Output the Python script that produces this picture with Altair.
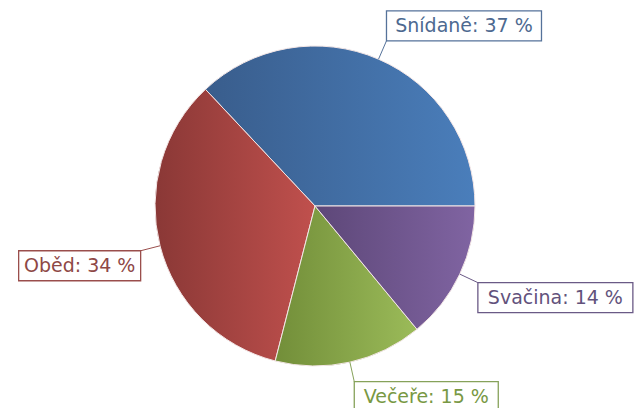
import altair as alt
import pandas as pd

# ---- data (counter-clockwise from 3 o'clock) ----
categories = ["Snídaně", "Oběd", "Večeře", "Svačina"]
shares = [37, 34, 15, 14]

# ---- styles ----
grad_dark = ["#395D8C", "#8A3836", "#728E39", "#5D4778"]
grad_light = ["#4A7EBB", "#C0504D", "#9BBB59", "#8064A2"]
line_colors = ["#55729A", "#9A4E4C", "#86A25A", "#6A5A86"]
text_colors = ["#4D6990", "#8E4846", "#789843", "#62527C"]

df = pd.DataFrame({"meal": categories, "share": shares, "idx": list(range(len(categories)))})

W, H = 639, 408
R = 160.0          # pie radius in px (1 data unit)
CX, CY = 315, 206  # pie centre in px
xs = alt.Scale(domain=[-CX / R, (W - CX) / R], nice=False, zero=False)
ys = alt.Scale(domain=[-(H - CY) / R, CY / R], nice=False, zero=False)
ts = alt.Scale(domain=[0, 100], range=[3.141592653589793 / 2, 5 * 3.141592653589793 / 2])

base = alt.Chart(df)

arcs = []
for i, cat in enumerate(categories):
    grad = alt.LinearGradient(
        gradient="linear",
        stops=[alt.GradientStop(color=grad_dark[i], offset=0),
               alt.GradientStop(color=grad_light[i], offset=1)],
        x1=0, x2=1, y1=0, y2=0,
    )
    arcs.append(
        base.mark_arc(outerRadius=R, fill=grad, stroke="#f3e6e6", strokeWidth=1)
        .encode(
            theta=alt.Theta("t1:Q", scale=ts, stack=None),
            theta2="t2:Q",
            x=alt.XDatum(0, type="quantitative", scale=xs, axis=None),
            y=alt.YDatum(0, type="quantitative", scale=ys, axis=None),
        )
        .transform_filter(alt.datum.meal == cat)
    )

stroke_scale = alt.Scale(domain=categories, range=line_colors)
fill_scale = alt.Scale(domain=categories, range=text_colors)

leaders = base.mark_rule(strokeWidth=1).encode(
    x=alt.X("lx0:Q", scale=xs, axis=None),
    y=alt.Y("ly0:Q", scale=ys, axis=None),
    x2="lx1:Q",
    y2="ly1:Q",
    stroke=alt.Stroke("meal:N", scale=stroke_scale, legend=None),
)

boxes = base.mark_rect(fill="white", strokeWidth=1.3).encode(
    x=alt.X("lx1:Q", scale=xs, axis=None),
    y=alt.Y("ly1:Q", scale=ys, axis=None),
    x2="bx2:Q",
    y2="by2:Q",
    stroke=alt.Stroke("meal:N", scale=stroke_scale, legend=None),
)

texts = base.mark_text(font="DejaVu Sans", fontSize=19, align="center", baseline="middle").encode(
    x=alt.X("tx:Q", scale=xs, axis=None),
    y=alt.Y("ty:Q", scale=ys, axis=None),
    text="label:N",
    fill=alt.Fill("meal:N", scale=fill_scale, legend=None),
)

chart = (
    alt.layer(*arcs, leaders, boxes, texts)
    .transform_window(cum="sum(share)", sort=[alt.SortField("idx")], frame=[None, 0])
    .transform_calculate(
        start="datum.cum - datum.share",
    )
    .transform_calculate(
        t1="100 - datum.cum",
        t2="100 - datum.start",
        mid="100 - (datum.start + datum.cum) / 2",
    )
    .transform_calculate(ang="PI / 2 + 2 * PI * datum.mid / 100")
    .transform_calculate(sx="sin(datum.ang)", cy="cos(datum.ang)")
    .transform_calculate(
        lx0="datum.sx",
        ly0="datum.cy",
        lx1="1.125 * datum.sx",
        ly1="1.125 * datum.cy",
        label="datum.meal + ': ' + datum.share + ' %'",
    )
    .transform_calculate(bw=f"(12 + 11 * length(datum.label)) / {R}", bh=f"30 / {R}")
    .transform_calculate(
        bx2="datum.lx1 + (datum.sx >= 0 ? datum.bw : -datum.bw)",
        by2="datum.ly1 + (datum.cy >= 0 ? datum.bh : -datum.bh)",
    )
    .transform_calculate(
        tx="(datum.lx1 + datum.bx2) / 2",
        ty="(datum.ly1 + datum.by2) / 2",
    )
    .properties(width=W, height=H, autosize="none", padding=0, background="white")
    .configure_view(stroke=None)
)

chart.save("out.html", embed_options={"renderer": "svg", "actions": False})
